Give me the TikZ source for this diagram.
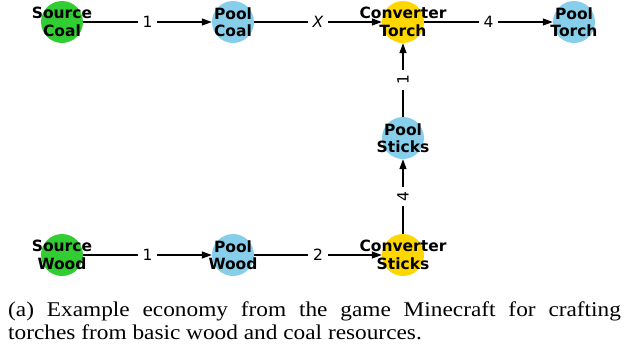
\documentclass[tikz,border=0pt]{standalone}
\usepackage{fontspec}
\setmainfont{Liberation Serif}
\newfontfamily\dejavu{DejaVu Sans}
\usetikzlibrary{arrows.meta}

\definecolor{srcgreen}{RGB}{50,205,50}
\definecolor{poolblue}{RGB}{135,206,235}
\definecolor{convgold}{RGB}{255,215,0}

\begin{document}
\begin{tikzpicture}[x=1pt, y=1pt,
    every node/.style={inner sep=0pt},
    dot/.style={circle, minimum size=42pt, draw=none},
    source/.style={dot, fill=srcgreen},
    pool/.style={dot, fill=poolblue},
    conv/.style={dot, fill=convgold},
    lbl/.style={align=center, font=\dejavu\bfseries\fontsize{15.5}{17.5}\selectfont},
    flow/.style={line width=1.2pt, -{Triangle[length=10pt,width=7pt]}},
    amt/.style={fill=white, inner xsep=5pt, inner ysep=3pt, font=\dejavu\fontsize{15.5}{17}\selectfont}]
    \useasboundingbox (0,0) rectangle (627,-349);

    % circles
    \node[source] (sc) at (62,-22) {};
    \node[pool] (pc) at (233,-22) {};
    \node[conv] (ct) at (403,-22) {};
    \node[pool] (pt) at (574,-22) {};
    \node[pool] (ps) at (403,-138) {};
    \node[source] (sw) at (62,-255) {};
    \node[pool] (pw) at (233,-255) {};
    \node[conv] (cs) at (403,-255) {};

    % flows
    \draw[flow] (sc) -- node[amt] {1} (pc);
    \draw[flow] (pc) -- node[amt] {\itshape X} (ct);
    \draw[flow] (ct) -- node[amt] {4} (pt);
    \draw[flow] (sw) -- node[amt] {1} (pw);
    \draw[flow] (pw) -- node[amt] {2} (cs);
    \draw[flow] (cs) -- node[amt, rotate=90] {4} (ps);
    \draw[flow] (ps) -- node[amt, rotate=90] {1} (ct);

    % labels on top
    \node[lbl] at (sc) {Source\\Coal};
    \node[lbl] at (pc) {Pool\\Coal};
    \node[lbl] at (ct) {Converter\\Torch};
    \node[lbl] at (pt) {Pool\\Torch};
    \node[lbl] at (ps) {Pool\\Sticks};
    \node[lbl] at (sw) {Source\\Wood};
    \node[lbl] at (pw) {Pool\\Wood};
    \node[lbl] at (cs) {Converter\\Sticks};

    \node[anchor=north west, xscale=1.11, transform shape, text width=552pt,
          align=justify, font=\fontsize{21}{22.8}\selectfont] (cap) at (8,-302)
        {(a) Example economy from the game Minecraft for crafting\linebreak
         torches from basic wood and coal resources.};
\end{tikzpicture}
\end{document}
